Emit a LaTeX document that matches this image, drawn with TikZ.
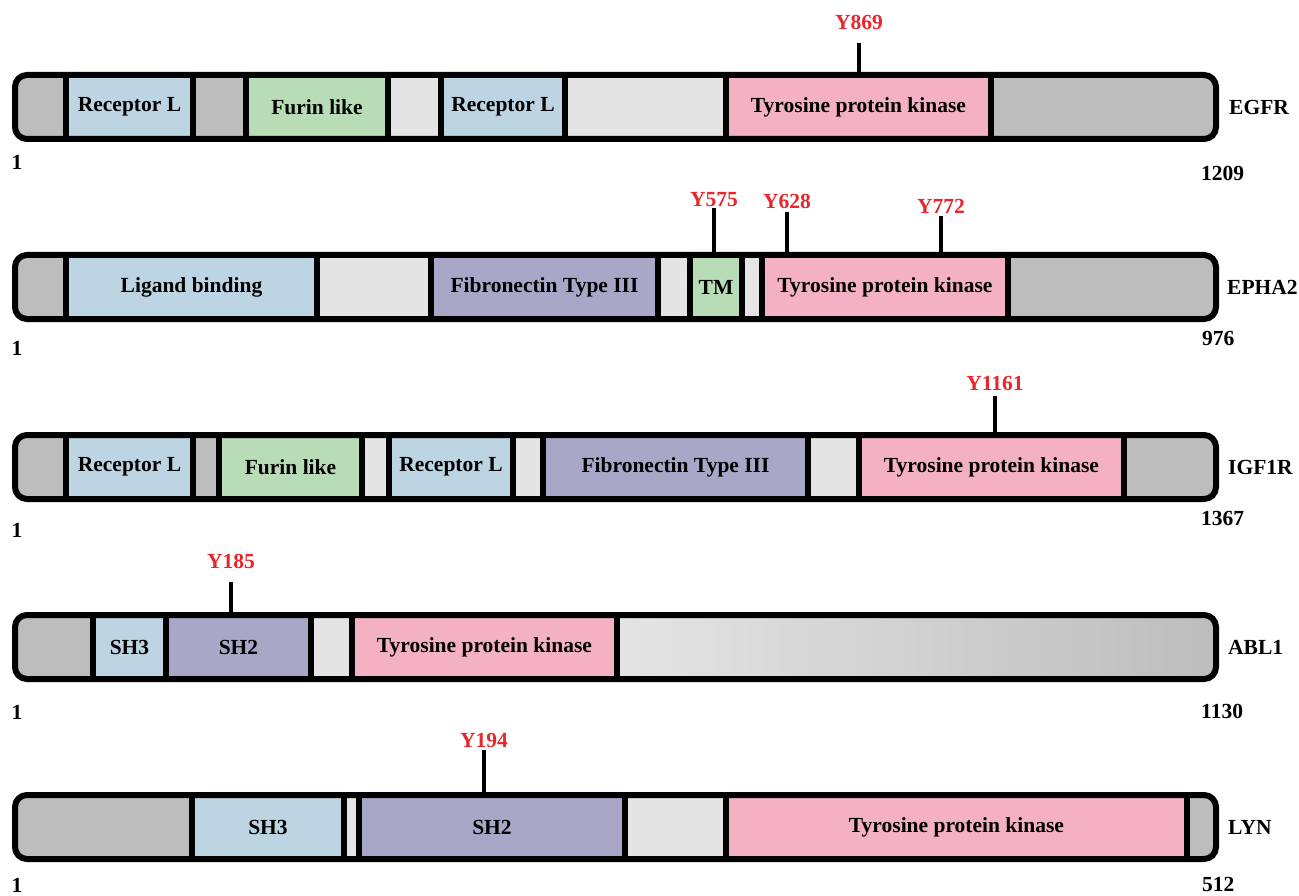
\documentclass[tikz,border=0pt]{standalone}
\usepackage{fontspec}
\setmainfont{Liberation Serif}
\definecolor{greyD}{HTML}{BDBDBD}
\definecolor{greyL}{HTML}{E4E4E4}
\definecolor{recL}{HTML}{BDD4E2}
\definecolor{furin}{HTML}{B8DCB5}
\definecolor{fibro}{HTML}{A8A7C7}
\definecolor{tpk}{HTML}{F3B1C3}
\definecolor{ptred}{HTML}{E8262B}

\begin{document}
\begin{tikzpicture}[x=1pt,y=-1pt,
	dom/.style={draw=black,line width=6pt,outer sep=0pt,inner sep=0pt,minimum height=64pt,
		font=\fontsize{21.5}{24}\selectfont\bfseries},
	outline/.style={draw=black,line width=6pt,rounded corners=12pt},
	lbl/.style={font=\fontsize{21.5}{24}\selectfont\bfseries,inner sep=0pt},
	site/.style={lbl,text=ptred,anchor=south},
	pin/.style={line width=3.5pt}]
	\useasboundingbox (0,0) rectangle (1299,896);

	% EGFR
	\begin{scope}
		\clip[rounded corners=12pt] (15,75) rectangle (1216,139);
		\foreach \a/\b/\c/\t [count=\i] in {15/66/greyD/{}, 66/193/recL/Receptor L, 193/246/greyD/{},
			246/388/furin/Furin like, 388/441/greyL/{}, 441/565/recL/Receptor L, 565/726/greyL/{},
			726/991/tpk/Tyrosine protein kinase, 991/1216/greyD/{}}
			\node[dom,fill=\c,minimum width={(\b-\a)*1pt}] (egfr\i) at ({(\a+\b)/2},107) {\t};
	\end{scope}
	\draw[outline] (egfr1.north west) rectangle (egfr9.south east);
	\node[site] (y869) at (859,30) {Y869};
	\draw[pin] ([yshift=-13pt]y869.south) -- (y869 |- egfr8.north);
	\node[lbl,anchor=west] (egfr) at (1229,107) {EGFR};
	\node[lbl] (egfrS) at (17,162) {1};
	\node[lbl,anchor=west] (egfrE) at (1201,173) {1209};

	% EPHA2
	\begin{scope}
		\clip[rounded corners=12pt] (15,255) rectangle (1216,319);
		\foreach \a/\b/\c/\t [count=\i] in {15/66/greyD/{}, 66/317/recL/Ligand binding, 317/431/greyL/{},
			431/658/fibro/Fibronectin Type III, 658/690/greyL/{}, 690/742/furin/TM, 742/762/greyL/{},
			762/1008/tpk/Tyrosine protein kinase, 1008/1216/greyD/{}}
			\node[dom,fill=\c,minimum width={(\b-\a)*1pt}] (epha\i) at ({(\a+\b)/2},287) {\t};
	\end{scope}
	\draw[outline] (epha1.north west) rectangle (epha9.south east);
	\node[site] (y575) at (714,207) {Y575};
	\draw[pin] ([yshift=-1pt]y575.south) -- (y575 |- epha6.north);
	\node[site] (y628) at (787,209) {Y628};
	\draw[pin] ([yshift=-3pt]y628.south) -- (y628 |- epha8.north);
	\node[site] (y772) at (941,214) {Y772};
	\draw[pin] ([yshift=-2pt]y772.south) -- (y772 |- epha8.north);
	\node[lbl,anchor=west] (epha) at (1227,287) {EPHA2};
	\node[lbl] (ephaS) at (17,348) {1};
	\node[lbl,anchor=west] (ephaE) at (1202,338) {976};

	% IGF1R
	\begin{scope}
		\clip[rounded corners=12pt] (15,435) rectangle (1216,499);
		\foreach \a/\b/\c/\t [count=\i] in {15/66/greyD/{}, 66/193/recL/Receptor L, 193/219/greyD/{},
			219/362/furin/Furin like, 362/389/greyL/{}, 389/513/recL/Receptor L, 513/543/greyL/{},
			543/808/fibro/Fibronectin Type III, 808/859/greyL/{}, 859/1124/tpk/Tyrosine protein kinase,
			1124/1216/greyD/{}}
			\node[dom,fill=\c,minimum width={(\b-\a)*1pt}] (igf\i) at ({(\a+\b)/2},467) {\t};
	\end{scope}
	\draw[outline] (igf1.north west) rectangle (igf11.south east);
	\node[site] (y1161) at (995,391) {Y1161};
	\draw[pin] ([yshift=-5pt]y1161.south) -- (y1161 |- igf10.north);
	\node[lbl,anchor=west] (igf) at (1228,467) {IGF1R};
	\node[lbl] (igfS) at (17,530) {1};
	\node[lbl,anchor=west] (igfE) at (1201,518) {1367};

	% ABL1
	\begin{scope}
		\clip[rounded corners=12pt] (15,615) rectangle (1216,679);
		\foreach \a/\b/\c/\t [count=\i] in {15/93/greyD/{}, 93/166/recL/SH3, 166/311/fibro/SH2,
			311/352/greyL/{}, 352/617/tpk/Tyrosine protein kinase}
			\node[dom,fill=\c,minimum width={(\b-\a)*1pt}] (abl\i) at ({(\a+\b)/2},647) {\t};
		\node[dom,left color=greyL,right color=greyD,minimum width=599pt] (abl6) at (916.5,647) {};
	\end{scope}
	\draw[outline] (abl1.north west) rectangle (abl6.south east);
	\node[site] (y185) at (231,569) {Y185};
	\draw[pin] ([yshift=-13pt]y185.south) -- (y185 |- abl3.north);
	\node[lbl,anchor=west] (abl) at (1228,647) {ABL1};
	\node[lbl] (ablS) at (17,712) {1};
	\node[lbl,anchor=west] (ablE) at (1201,711) {1130};

	% LYN
	\begin{scope}
		\clip[rounded corners=12pt] (15,795) rectangle (1216,859);
		\foreach \a/\b/\c/\t [count=\i] in {15/192/greyD/{}, 192/344/recL/SH3, 344/359/greyL/{},
			359/625/fibro/SH2, 625/726/greyL/{}, 726/1187/tpk/Tyrosine protein kinase, 1187/1216/greyD/{}}
			\node[dom,fill=\c,minimum width={(\b-\a)*1pt}] (lyn\i) at ({(\a+\b)/2},827) {\t};
	\end{scope}
	\draw[outline] (lyn1.north west) rectangle (lyn7.south east);
	\node[site] (y194) at (484,748) {Y194};
	\draw[pin] ([yshift=-2pt]y194.south) -- (y194 |- lyn4.north);
	\node[lbl,anchor=west] (lyn) at (1228,827) {LYN};
	\node[lbl] (lynS) at (17,885) {1};
	\node[lbl,anchor=west] (lynE) at (1202,884) {512};
\end{tikzpicture}
\end{document}
